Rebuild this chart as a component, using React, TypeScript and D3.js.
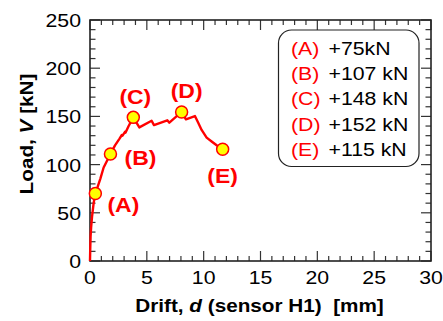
import React from "react";
import * as d3 from "d3";

const driftCurve = [0, 0.02, 0.05, 0.1, 0.18, 0.32, 0.47, 0.7, 0.9, 1.2, 1.5, 1.8, 2.2, 2.6, 2.8, 2.86, 3.08, 3.12, 3.4, 3.81, 4.34, 5.42, 5.63, 6.8, 6.98, 8.06, 8.44, 9.23, 9.5, 9.82, 10.26, 10.7, 11.14, 11.67];
const loadCurve = [0, 12, 25, 35, 46, 60, 70, 78, 85, 97, 104, 111, 120, 127, 130.7, 130, 134, 133, 140, 149, 138.6, 145.5, 141, 146, 143.5, 154.6, 147, 150.4, 144, 136, 128, 124, 120, 115.9];

const pointNames = ["(A)", "(B)", "(C)", "(D)", "(E)"];
const pointDrift = [0.47, 1.8, 3.81, 8.06, 11.67];
const pointLoad = [70, 111, 149, 154.6, 115.9];
const legendValues = ["+75kN", "+107 kN", "+148 kN", "+152 kN", "+115 kN"];

const xTicks = [0, 5, 10, 15, 20, 25, 30];
const yTicks = [0, 50, 100, 150, 200, 250];

const W = 443, H = 321;
const L = 90, R = 431, T = 20, B = 261;
const SX = 1.12;
const FONT = "'Liberation Sans', Arial, Helvetica, sans-serif";

// label offsets (dx, dy) from each point
const labelOffsets: [number, number][] = [[28, 18], [30, 11], [2, -13], [5, -14], [0, 34]];

function T2({ x, y, anchor = "middle", size, weight = "normal", fill = "#000", rotate = 0, children }: any) {
  return (
    <text
      transform={`translate(${x},${y})${rotate ? ` rotate(${rotate})` : ""} scale(${SX},1)`}
      textAnchor={anchor}
      fontSize={size}
      fontWeight={weight}
      fill={fill}
      fontFamily={FONT}
    >
      {children}
    </text>
  );
}

export default function App() {
  const x = d3.scaleLinear().domain([0, 30]).range([L, R]);
  const y = d3.scaleLinear().domain([0, 250]).range([B, T]);
  const line = d3
    .line<number>()
    .x((_, i) => x(driftCurve[i]))
    .y((_, i) => y(loadCurve[i]))
    .curve(d3.curveLinear);

  const xMinor = d3.range(0, 31, 1);
  const yMinor = d3.range(0, 251, 10);
  const tc = "#333";

  return (
    <svg width={W} height={H} style={{ position: "absolute", left: 0, top: 0 }}>
      <rect width={W} height={H} fill="#fff" />
      {/* ticks */}
      {xMinor.map((v) => {
        const len = v % 5 === 0 ? 10 : 5;
        return (
          <g key={"xt" + v}>
            <line x1={x(v)} x2={x(v)} y1={B} y2={B - len} stroke={tc} strokeWidth={1.2} />
            <line x1={x(v)} x2={x(v)} y1={T} y2={T + len} stroke={tc} strokeWidth={1.2} />
          </g>
        );
      })}
      {yMinor.map((v) => {
        const len = v % 50 === 0 ? 10 : 5.5;
        return (
          <g key={"yt" + v}>
            <line x1={L} x2={L + len} y1={y(v)} y2={y(v)} stroke={tc} strokeWidth={1.2} />
            <line x1={R} x2={R - len} y1={y(v)} y2={y(v)} stroke={tc} strokeWidth={1.2} />
          </g>
        );
      })}
      <rect x={L} y={T} width={R - L} height={B - T} fill="none" stroke="#222" strokeWidth={1.6} />

      {/* tick labels */}
      {xTicks.map((v) => (
        <T2 key={"xl" + v} x={x(v)} y={284} size={19}>
          {v}
        </T2>
      ))}
      {yTicks.map((v) => (
        <T2 key={"yl" + v} x={81} y={y(v) + 7} anchor="end" size={19}>
          {v}
        </T2>
      ))}

      {/* axis titles */}
      <T2 x={259.5} y={311.5} size={18.5} weight="bold">
        Drift, <tspan fontStyle="italic">d</tspan> (sensor H1)&#160; [mm]
      </T2>
      <T2 x={33} y={134} size={18.5} weight="bold" rotate={-90}>
        Load, <tspan fontStyle="italic">V</tspan> [kN]
      </T2>

      {/* curve */}
      <path d={line(driftCurve) || ""} fill="none" stroke="#ff0000" strokeWidth={2.4} strokeLinejoin="round" />

      {/* points */}
      {pointDrift.map((d, i) => (
        <circle key={"p" + i} cx={x(d)} cy={y(pointLoad[i])} r={6} fill="#ffff00" stroke="#ff0000" strokeWidth={1.5} />
      ))}
      {pointDrift.map((d, i) => (
        <T2
          key={"pl" + i}
          x={x(d) + labelOffsets[i][0]}
          y={y(pointLoad[i]) + labelOffsets[i][1]}
          size={20.5}
          weight="bold"
          fill="#ff0000"
        >
          {pointNames[i]}
        </T2>
      ))}

      {/* legend */}
      <rect x={278.5} y={30} width={140.5} height={136.5} rx={13} ry={13} fill="#fff" stroke="#222" strokeWidth={1.2} />
      {pointNames.map((n, i) => (
        <g key={"lg" + i}>
          <T2 x={291} y={55 + i * 25.2} anchor="start" size={19} fill="#ff0000">
            {n}
          </T2>
          <T2 x={328.5} y={55 + i * 25.2} anchor="start" size={19}>
            {legendValues[i]}
          </T2>
        </g>
      ))}
    </svg>
  );
}
